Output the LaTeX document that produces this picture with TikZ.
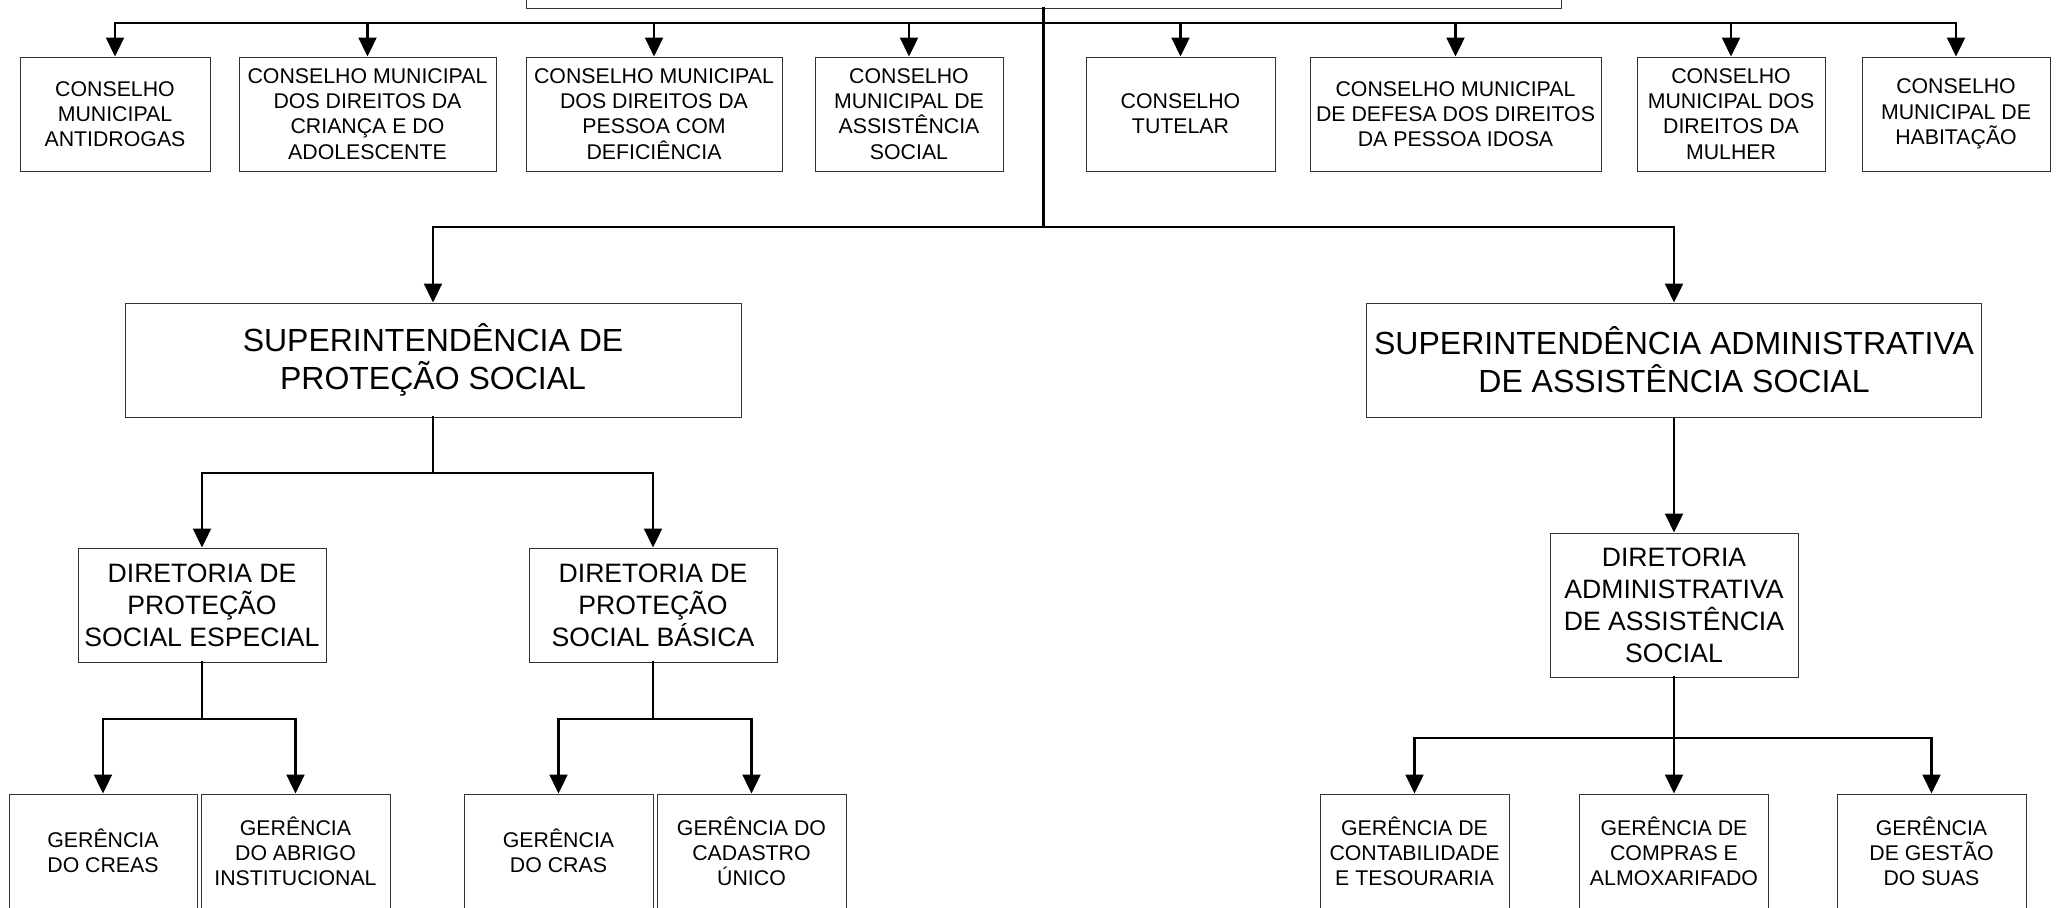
\documentclass[tikz,border=0pt]{standalone}
\usepackage{fontspec}
\setmainfont{Liberation Sans}
\usetikzlibrary{arrows.meta}
\tikzset{
  box/.style={draw=black!80, line width=0.5pt, fill=white, align=center, inner sep=0pt, text=black},
  small/.style={font=\fontsize{10.65pt}{12.6pt}\selectfont},
  mid/.style={font=\fontsize{13.3pt}{16pt}\selectfont},
  big/.style={font=\fontsize{16pt}{19pt}\selectfont},
  conn/.style={line width=1.15pt, line cap=rect},
  arr/.style={line width=1.15pt, -{Triangle[length=9.5pt,width=9pt]}},
}
\begin{document}
\begin{tikzpicture}[x=0.5pt, y=-0.5pt]
\useasboundingbox (0,0) rectangle (2059,907);
\clip (0,0) rectangle (2059,907);
\fill[white] (0,0) rectangle (2059,907);

% top box (cut off)
\node[box, minimum width=517.5pt, minimum height=54pt] (top) at (1043.5,-46) {};

% councils
\node[box, small, minimum width=95pt,    minimum height=57pt] (c1) at (115,114)   {CONSELHO\\MUNICIPAL\\ANTIDROGAS};
\node[box, small, minimum width=128.5pt, minimum height=57pt] (c2) at (367.5,114) {CONSELHO MUNICIPAL\\DOS DIREITOS DA\\CRIANÇA E DO\\ADOLESCENTE};
\node[box, small, minimum width=128pt,   minimum height=57pt] (c3) at (654,114)   {CONSELHO MUNICIPAL\\DOS DIREITOS DA\\PESSOA COM\\DEFICIÊNCIA};
\node[box, small, minimum width=94pt,    minimum height=57pt] (c4) at (909,114)   {CONSELHO\\MUNICIPAL DE\\ASSISTÊNCIA\\SOCIAL};
\node[box, small, minimum width=94.5pt,  minimum height=57pt] (c5) at (1180.5,114) {CONSELHO\\TUTELAR};
\node[box, small, minimum width=145.5pt, minimum height=57pt] (c6) at (1455.5,114) {CONSELHO MUNICIPAL\\DE DEFESA DOS DIREITOS\\DA PESSOA IDOSA};
\node[box, small, minimum width=94pt,    minimum height=57pt] (c7) at (1731,114)  {CONSELHO\\MUNICIPAL DOS\\DIREITOS DA\\MULHER};
\node[box, small, minimum width=94pt,    minimum height=57pt] (c8) at (1956,114)  {CONSELHO\\MUNICIPAL DE\\HABITAÇÃO};

% superintendencies
\node[box, big, minimum width=308pt,   minimum height=57pt] (sp) at (433,360)    {SUPERINTENDÊNCIA DE\\PROTEÇÃO SOCIAL};
\node[box, big, minimum width=307.5pt, minimum height=57pt] (sa) at (1674,360) {SUPERINTENDÊNCIA ADMINISTRATIVA\\DE ASSISTÊNCIA SOCIAL};

% directorates
\node[box, mid, minimum width=124pt, minimum height=57pt] (de) at (202,605)  {DIRETORIA DE\\PROTEÇÃO\\SOCIAL ESPECIAL};
\node[box, mid, minimum width=124pt, minimum height=57pt] (db) at (653,605)  {DIRETORIA DE\\PROTEÇÃO\\SOCIAL BÁSICA};
\node[box, mid, minimum width=124pt, minimum height=72pt] (da) at (1674,605) {DIRETORIA\\ADMINISTRATIVA\\DE ASSISTÊNCIA\\SOCIAL};

% managements
\node[box, small, minimum width=94pt,   minimum height=57pt] (g1) at (103,851)    {GERÊNCIA\\DO CREAS};
\node[box, small, minimum width=94.5pt, minimum height=57pt] (g2) at (295.5,851)  {GERÊNCIA\\DO ABRIGO\\INSTITUCIONAL};
\node[box, small, minimum width=94.5pt, minimum height=57pt] (g3) at (558.5,851)  {GERÊNCIA\\DO CRAS};
\node[box, small, minimum width=94.5pt, minimum height=57pt] (g4) at (751.5,851)  {GERÊNCIA DO\\CADASTRO\\ÚNICO};
\node[box, small, minimum width=94.5pt, minimum height=57pt] (g5) at (1414.5,851) {GERÊNCIA DE\\CONTABILIDADE\\E TESOURARIA};
\node[box, small, minimum width=94.5pt, minimum height=57pt] (g6) at (1674,851) {GERÊNCIA DE\\COMPRAS E\\ALMOXARIFADO};
\node[box, small, minimum width=94.5pt, minimum height=57pt] (g7) at (1931.5,851) {GERÊNCIA\\DE GESTÃO\\DO SUAS};

% bus levels
\coordinate (b1) at (0,23);
\coordinate (b2) at (0,227);
\coordinate (b3) at (0,473);
\coordinate (b4) at (0,719);
\coordinate (b5) at (0,738);

% top level
\draw[conn] (c1.north |- b1) -- (c8.north |- b1);
\draw[conn] (top.south) -- (top.south |- b2);
\foreach \n in {c1,c2,c3,c4,c5,c6,c7,c8}
  \draw[arr] (\n.north |- b1) -- (\n.north);

% superintendencies
\draw[conn] (sp.north |- b2) -- (sa.north |- b2);
\draw[arr] (sp.north |- b2) -- (sp.north);
\draw[arr] (sa.north |- b2) -- (sa.north);

% protection social branch
\draw[conn] (sp.south) -- (sp.south |- b3);
\draw[conn] (de.north |- b3) -- (db.north |- b3);
\draw[arr] (de.north |- b3) -- (de.north);
\draw[arr] (db.north |- b3) -- (db.north);

\draw[conn] (de.south) -- (de.south |- b4);
\draw[conn] (g1.north |- b4) -- (g2.north |- b4);
\draw[arr] (g1.north |- b4) -- (g1.north);
\draw[arr] (g2.north |- b4) -- (g2.north);

\draw[conn] (db.south) -- (db.south |- b4);
\draw[conn] (g3.north |- b4) -- (g4.north |- b4);
\draw[arr] (g3.north |- b4) -- (g3.north);
\draw[arr] (g4.north |- b4) -- (g4.north);

% administrative branch
\draw[arr] (sa.south) -- (da.north);
\draw[conn] (da.south) -- (da.south |- b5);
\draw[conn] (g5.north |- b5) -- (g7.north |- b5);
\draw[arr] (g5.north |- b5) -- (g5.north);
\draw[arr] (g6.north |- b5) -- (g6.north);
\draw[arr] (g7.north |- b5) -- (g7.north);
\end{tikzpicture}
\end{document}
